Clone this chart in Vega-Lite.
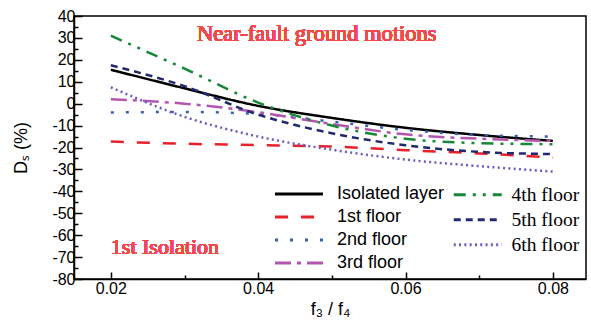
{
  "$schema": "https://vega.github.io/schema/vega-lite/v6.json",
  "width": 512,
  "height": 263,
  "autosize": {"type": "none"},
  "padding": {"left": 74, "top": 16, "right": 5, "bottom": 48},
  "background": "white",
  "config": {
    "view": {"stroke": "black", "strokeWidth": 1.5},
    "axis": {
      "grid": false,
      "domainColor": "black",
      "domainWidth": 1.5,
      "tickColor": "black",
      "tickWidth": 1.5,
      "labelColor": "black",
      "labelFont": "Liberation Sans",
      "labelFontSize": 16,
      "titleFont": "Liberation Sans",
      "titleFontSize": 18,
      "titleFontWeight": "normal",
      "titleColor": "black"
    }
  },
  "data": {
    "values": [
      {"series": "Isolated layer", "r": 0.02, "ds": 15.5},
      {"series": "Isolated layer", "r": 0.03, "ds": 7},
      {"series": "Isolated layer", "r": 0.04, "ds": -1},
      {"series": "Isolated layer", "r": 0.05, "ds": -6.5},
      {"series": "Isolated layer", "r": 0.06, "ds": -11},
      {"series": "Isolated layer", "r": 0.07, "ds": -14.3},
      {"series": "Isolated layer", "r": 0.08, "ds": -17},
      {"series": "1st floor", "r": 0.02, "ds": -17.3},
      {"series": "1st floor", "r": 0.03, "ds": -18.3},
      {"series": "1st floor", "r": 0.04, "ds": -18.9},
      {"series": "1st floor", "r": 0.05, "ds": -19.6},
      {"series": "1st floor", "r": 0.06, "ds": -21.2},
      {"series": "1st floor", "r": 0.07, "ds": -22.7},
      {"series": "1st floor", "r": 0.08, "ds": -24.6},
      {"series": "2nd floor", "r": 0.02, "ds": -4},
      {"series": "2nd floor", "r": 0.03, "ds": -3.8},
      {"series": "2nd floor", "r": 0.04, "ds": -4.7},
      {"series": "2nd floor", "r": 0.05, "ds": -8.2},
      {"series": "2nd floor", "r": 0.06, "ds": -12},
      {"series": "2nd floor", "r": 0.07, "ds": -14.3},
      {"series": "2nd floor", "r": 0.08, "ds": -15},
      {"series": "3rd floor", "r": 0.02, "ds": 2},
      {"series": "3rd floor", "r": 0.03, "ds": 0},
      {"series": "3rd floor", "r": 0.04, "ds": -3.9},
      {"series": "3rd floor", "r": 0.05, "ds": -9.3},
      {"series": "3rd floor", "r": 0.06, "ds": -14},
      {"series": "3rd floor", "r": 0.07, "ds": -16},
      {"series": "3rd floor", "r": 0.08, "ds": -17},
      {"series": "4th floor", "r": 0.02, "ds": 31},
      {"series": "4th floor", "r": 0.03, "ds": 16},
      {"series": "4th floor", "r": 0.04, "ds": 0.5},
      {"series": "4th floor", "r": 0.05, "ds": -10},
      {"series": "4th floor", "r": 0.06, "ds": -16},
      {"series": "4th floor", "r": 0.07, "ds": -18},
      {"series": "4th floor", "r": 0.08, "ds": -18.5},
      {"series": "5th floor", "r": 0.02, "ds": 17.5},
      {"series": "5th floor", "r": 0.03, "ds": 8},
      {"series": "5th floor", "r": 0.04, "ds": -5},
      {"series": "5th floor", "r": 0.05, "ds": -13.5},
      {"series": "5th floor", "r": 0.06, "ds": -19},
      {"series": "5th floor", "r": 0.07, "ds": -22},
      {"series": "5th floor", "r": 0.08, "ds": -23},
      {"series": "6th floor", "r": 0.02, "ds": 7.5},
      {"series": "6th floor", "r": 0.03, "ds": -6},
      {"series": "6th floor", "r": 0.04, "ds": -15},
      {"series": "6th floor", "r": 0.05, "ds": -21},
      {"series": "6th floor", "r": 0.06, "ds": -25.5},
      {"series": "6th floor", "r": 0.07, "ds": -28.5},
      {"series": "6th floor", "r": 0.08, "ds": -31}
    ]
  },
  "encoding": {
    "x": {
      "field": "r",
      "type": "quantitative",
      "scale": {"domain": [0.015, 0.0845], "nice": false, "zero": false},
      "axis": {
        "title": "f₃ / f₄",
        "values": [0.02, 0.03, 0.04, 0.05, 0.06, 0.07, 0.08],
        "labelExpr": "round(datum.value*100) % 2 == 0 ? format(datum.value, '.2f') : ''",
        "tickSize": {"condition": {"test": "round(datum.value*100) % 2 != 0", "value": -4}, "value": -7},
        "labelPadding": 8,
        "titlePadding": 4
      }
    },
    "y": {
      "field": "ds",
      "type": "quantitative",
      "scale": {"domain": [-80, 40], "nice": false, "zero": false},
      "axis": {
        "title": "Dₛ (%)",
        "values": [-80, -75, -70, -65, -60, -55, -50, -45, -40, -35, -30, -25, -20, -15, -10, -5, 0, 5, 10, 15, 20, 25, 30, 35, 40],
        "labelExpr": "datum.value % 10 == 0 ? toString(datum.value) : ''",
        "tickSize": {"condition": {"test": "datum.value % 10 != 0", "value": -4}, "value": -8},
        "labelPadding": 7,
        "titlePadding": 21
      }
    }
  },
  "layer": [
    {
      "transform": [{"filter": {"field": "series", "oneOf": ["Isolated layer", "1st floor", "2nd floor", "3rd floor"]}}],
      "mark": {"type": "line", "interpolate": "monotone", "strokeWidth": 2.5, "strokeCap": "butt"},
      "encoding": {
        "color": {
          "field": "series",
          "type": "nominal",
          "scale": {"domain": ["Isolated layer", "1st floor", "2nd floor", "3rd floor"], "range": ["#000000", "#e8202a", "#3a5fb0", "#b455b0"]},
          "legend": {
            "orient": "none", "legendX": 216, "legendY": 169, "title": null, "padding": 0,
            "symbolType": "M-4,0H4", "symbolSize": 144, "symbolStrokeWidth": 3,
            "labelFont": "Liberation Sans", "labelFontSize": 18, "labelColor": "black", "labelOffset": 29, "rowPadding": 5, "labelLimit": 0
          }
        },
        "strokeDash": {
          "field": "series",
          "type": "nominal",
          "scale": {"domain": ["Isolated layer", "1st floor", "2nd floor", "3rd floor"], "range": [[1, 0], [13, 13], [3, 12], [16, 6, 4, 6]]},
          "legend": {
            "orient": "none", "legendX": 216, "legendY": 169, "title": null, "padding": 0,
            "symbolType": "M-4,0H4", "symbolSize": 144, "symbolStrokeWidth": 3,
            "labelFont": "Liberation Sans", "labelFontSize": 18, "labelColor": "black", "labelOffset": 29, "rowPadding": 5, "labelLimit": 0
          }
        },
        "detail": {"field": "series"}
      }
    },
    {
      "transform": [{"filter": {"field": "series", "oneOf": ["4th floor", "5th floor", "6th floor"]}}],
      "mark": {"type": "line", "interpolate": "monotone", "strokeWidth": 2.5, "strokeCap": "butt"},
      "encoding": {
        "color": {
          "field": "series",
          "type": "nominal",
          "scale": {"domain": ["4th floor", "5th floor", "6th floor"], "range": ["#17873a", "#23296e", "#6b5cc0"]},
          "legend": {
            "orient": "none", "legendX": 394, "legendY": 169, "title": null, "padding": 0,
            "symbolType": "M-4,0H4", "symbolSize": 144, "symbolStrokeWidth": 3,
            "labelFont": "Liberation Serif", "labelFontSize": 19.5, "labelColor": "black", "labelOffset": 24, "rowPadding": 4, "labelLimit": 0
          }
        },
        "strokeDash": {
          "field": "series",
          "type": "nominal",
          "scale": {"domain": ["4th floor", "5th floor", "6th floor"], "range": [[12, 7, 3, 7, 3, 7], [7, 5], [2, 3.3]]},
          "legend": {
            "orient": "none", "legendX": 394, "legendY": 169, "title": null, "padding": 0,
            "symbolType": "M-4,0H4", "symbolSize": 144, "symbolStrokeWidth": 3,
            "labelFont": "Liberation Serif", "labelFontSize": 19.5, "labelColor": "black", "labelOffset": 24, "rowPadding": 4, "labelLimit": 0
          }
        },
        "detail": {"field": "series"}
      }
    },
    {
      "mark": {"type": "text", "text": "Near-fault ground motions", "font": "Liberation Serif", "fontSize": 22.5, "fontWeight": "normal", "color": "#f24a4a", "align": "left", "baseline": "alphabetic"},
      "encoding": {
        "x": {"datum": 0.0317},
        "y": {"datum": 28.7}
      }
    },
    {
      "mark": {"type": "text", "text": "1st Isolation", "font": "Liberation Serif", "fontSize": 22, "fontWeight": "normal", "color": "#f24a4a", "align": "left", "baseline": "alphabetic"},
      "encoding": {
        "x": {"datum": 0.02},
        "y": {"datum": -68.7}
      }
    }
  ],
  "resolve": {"scale": {"color": "independent", "strokeDash": "independent"}}
}
